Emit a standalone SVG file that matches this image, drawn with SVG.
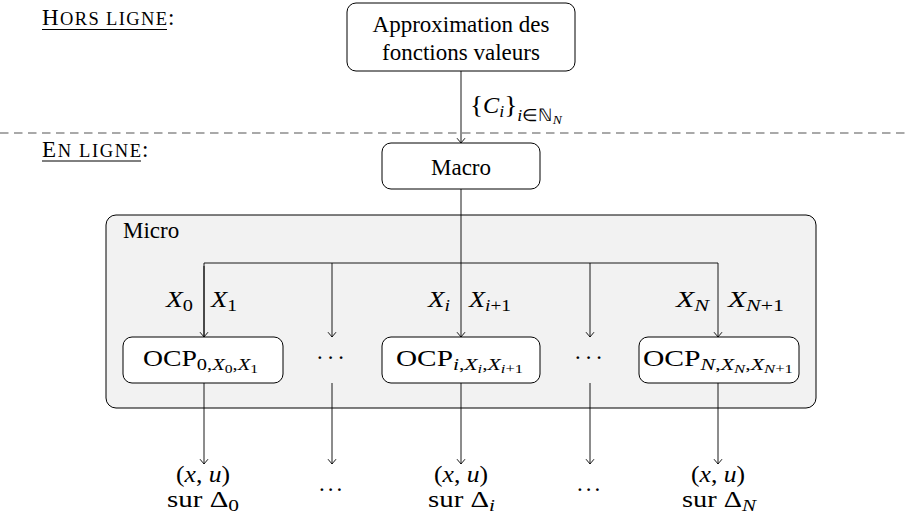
<svg xmlns="http://www.w3.org/2000/svg" width="905" height="518" viewBox="0 0 905 518">
<defs>
<marker id="to" markerUnits="userSpaceOnUse" markerWidth="12" markerHeight="12" viewBox="-6 -6 12 12" refX="0" refY="0" orient="auto">
<path d="M-4.8,-4 Q-1.2,-1 0,0 Q-1.2,1 -4.8,4" fill="none" stroke="#000" stroke-width="0.9"/>
</marker>
</defs>
<style>
text{font-family:"Liberation Serif","Times New Roman",serif;font-size:23px;fill:#000}
.it{font-style:italic}
.s1{font-size:17px}
.s2{font-size:13px}
.sm{font-size:18.5px}
.node{fill:#fff;stroke:#000;stroke-width:1}
.conn{fill:none;stroke:#000;stroke-width:0.9}
</style>
<rect width="905" height="518" fill="#fff"/>

<g id="labels-sections">
<text x="42" y="25" textLength="125" lengthAdjust="spacing">H<tspan class="sm">ORS LIGNE</tspan></text>
<text x="168" y="25">:</text>
<line x1="42" y1="29.5" x2="167" y2="29.5" stroke="#000" stroke-width="1"/>
<text x="42" y="157" textLength="99" lengthAdjust="spacing">E<tspan class="sm">N LIGNE</tspan></text>
<text x="142" y="157">:</text>
<line x1="42" y1="161" x2="141" y2="161" stroke="#000" stroke-width="1"/>
</g>

<line id="separator" x1="0" y1="133" x2="905" y2="133" stroke="#555" stroke-width="1.2" stroke-dasharray="8.5,5.5"/>

<g id="micro">
<rect x="106" y="215" width="710" height="193" rx="10" fill="#f2f2f2" stroke="#000" stroke-width="1"/>
<text x="123" y="238">Micro</text>
</g>

<g id="approx">
<rect class="node" x="347" y="3" width="228" height="68" rx="9"/>
<text x="461" y="32" text-anchor="middle">Approximation des</text>
<text x="461" y="60" text-anchor="middle">fonctions valeurs</text>
</g>

<g id="macro">
<rect class="node" x="382" y="143" width="158" height="46" rx="9"/>
<text x="461" y="175" text-anchor="middle">Macro</text>
</g>

<g id="ocp0">
<rect class="node" x="123" y="337" width="160" height="46" rx="9"/>
<text x="143" y="366" textLength="115" lengthAdjust="spacingAndGlyphs">OCP<tspan class="s1" dy="4">0,</tspan><tspan class="s1 it">X</tspan><tspan class="s2" dy="3">0</tspan><tspan class="s1" dy="-3">,</tspan><tspan class="s1 it">X</tspan><tspan class="s2" dy="3">1</tspan></text>
</g>

<g id="ocpi">
<rect class="node" x="382" y="337" width="158" height="46" rx="9"/>
<text x="396" y="366" textLength="127" lengthAdjust="spacingAndGlyphs">OCP<tspan class="s1 it" dy="4">i</tspan><tspan class="s1">,</tspan><tspan class="s1 it">X</tspan><tspan class="s2 it" dy="3">i</tspan><tspan class="s1" dy="-3">,</tspan><tspan class="s1 it">X</tspan><tspan class="s2 it" dy="3">i</tspan><tspan class="s2">+1</tspan></text>
</g>

<g id="ocpN">
<rect class="node" x="639" y="337" width="160" height="46" rx="9"/>
<text x="643" y="366" textLength="150" lengthAdjust="spacingAndGlyphs">OCP<tspan class="s1 it" dy="4">N</tspan><tspan class="s1">,</tspan><tspan class="s1 it">X</tspan><tspan class="s2 it" dy="3">N</tspan><tspan class="s1" dy="-3">,</tspan><tspan class="s1 it">X</tspan><tspan class="s2 it" dy="3">N</tspan><tspan class="s2">+1</tspan></text>
</g>

<g id="dots1"><text x="332" y="365" text-anchor="middle" letter-spacing="3">···</text></g>
<g id="dots2"><text x="590" y="365" text-anchor="middle" letter-spacing="3">···</text></g>

<g id="out0">
<text x="176" y="482" textLength="54" lengthAdjust="spacingAndGlyphs">(<tspan class="it">x</tspan>, <tspan class="it">u</tspan>)</text>
<text x="167" y="507" textLength="72" lengthAdjust="spacingAndGlyphs">sur Δ<tspan class="s1" dy="4">0</tspan></text>
</g>
<g id="outdots1"><text x="332" y="491" text-anchor="middle" letter-spacing="3">...</text></g>
<g id="outi">
<text x="434" y="482" textLength="54" lengthAdjust="spacingAndGlyphs">(<tspan class="it">x</tspan>, <tspan class="it">u</tspan>)</text>
<text x="428" y="507" textLength="67" lengthAdjust="spacingAndGlyphs">sur Δ<tspan class="s1 it" dy="4">i</tspan></text>
</g>
<g id="outdots2"><text x="590" y="491" text-anchor="middle" letter-spacing="3">...</text></g>
<g id="outN">
<text x="691" y="482" textLength="54" lengthAdjust="spacingAndGlyphs">(<tspan class="it">x</tspan>, <tspan class="it">u</tspan>)</text>
<text x="682" y="507" textLength="74" lengthAdjust="spacingAndGlyphs">sur Δ<tspan class="s1 it" dy="4">N</tspan></text>
</g>

<g id="connectors">
<line class="conn" x1="461" y1="71" x2="461" y2="143" marker-end="url(#to)"/>
<line class="conn" x1="461" y1="189" x2="461" y2="337" marker-end="url(#to)"/>
<path class="conn" d="M204,337 V263 H718 V337" marker-end="url(#to)"/>
<line class="conn" x1="204" y1="266" x2="204" y2="337" marker-end="url(#to)"/>
<line class="conn" x1="332" y1="263" x2="332" y2="337" marker-end="url(#to)"/>
<line class="conn" x1="590" y1="263" x2="590" y2="337" marker-end="url(#to)"/>
<line class="conn" x1="204" y1="383" x2="204" y2="464" marker-end="url(#to)"/>
<line class="conn" x1="332" y1="383" x2="332" y2="464" marker-end="url(#to)"/>
<line class="conn" x1="461" y1="383" x2="461" y2="464" marker-end="url(#to)"/>
<line class="conn" x1="590" y1="383" x2="590" y2="464" marker-end="url(#to)"/>
<line class="conn" x1="718" y1="383" x2="718" y2="464" marker-end="url(#to)"/>
<text x="470" y="113" textLength="92" lengthAdjust="spacingAndGlyphs"><tspan font-size="26">{</tspan><tspan class="it">C</tspan><tspan class="s1 it" dy="4">i</tspan><tspan font-size="26" dy="-4">}</tspan><tspan class="s1 it" dy="8">i</tspan><tspan class="s1">∈ℕ</tspan><tspan class="s2 it" dy="3">N</tspan></text>
<text x="166" y="307" textLength="27" lengthAdjust="spacingAndGlyphs"><tspan class="it">X</tspan><tspan class="s1" dy="4">0</tspan></text>
<text x="211" y="307" textLength="26" lengthAdjust="spacingAndGlyphs"><tspan class="it">X</tspan><tspan class="s1" dy="4">1</tspan></text>
<text x="428" y="307" textLength="22" lengthAdjust="spacingAndGlyphs"><tspan class="it">X</tspan><tspan class="s1 it" dy="4">i</tspan></text>
<text x="469" y="307" textLength="42" lengthAdjust="spacingAndGlyphs"><tspan class="it">X</tspan><tspan class="s1 it" dy="4">i</tspan><tspan class="s1">+1</tspan></text>
<text x="676" y="307" textLength="33" lengthAdjust="spacingAndGlyphs"><tspan class="it">X</tspan><tspan class="s1 it" dy="4">N</tspan></text>
<text x="728" y="307" textLength="56" lengthAdjust="spacingAndGlyphs"><tspan class="it">X</tspan><tspan class="s1 it" dy="4">N</tspan><tspan class="s1">+1</tspan></text>
</g>
</svg>
